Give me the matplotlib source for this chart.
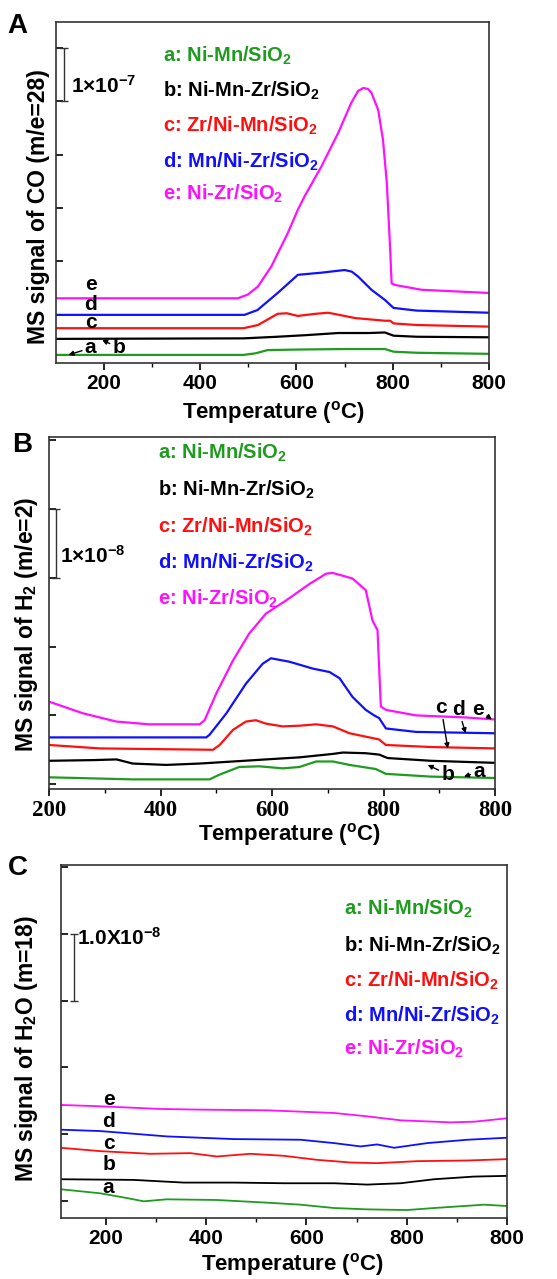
import matplotlib
matplotlib.use('Agg')
import matplotlib.pyplot as plt

plt.rcParams['font.family'] = ['Liberation Sans', 'DejaVu Sans']
plt.rcParams['font.weight'] = 'bold'
plt.rcParams['mathtext.fontset'] = 'custom'
plt.rcParams['mathtext.rm'] = 'Liberation Sans:bold'
plt.rcParams['mathtext.it'] = 'Liberation Sans:bold'
plt.rcParams['mathtext.bf'] = 'Liberation Sans:bold'

colors = ['#1f9b1f', 'black', '#ff1010', '#1010ff', '#ff10ff']
names = ['a: Ni-Mn/SiO$_2$', 'b: Ni-Mn-Zr/SiO$_2$', 'c: Zr/Ni-Mn/SiO$_2$',
         'd: Mn/Ni-Zr/SiO$_2$', 'e: Ni-Zr/SiO$_2$']
xticks = [200, 400, 600, 800, 1000]
xticklabels = ['200', '400', '600', '800', '800']

# ---- panel A : CO (m/e=28), units of 1e-7
A_T_a = [100, 490, 515, 540, 600, 700, 784, 802, 850, 1000]
A_a = [-0.75, -0.75, -0.72, -0.66, -0.65, -0.64, -0.64, -0.69, -0.71, -0.73]
A_T_b = [100, 490, 560, 620, 687, 750, 784, 802, 850, 1000]
A_b = [-0.45, -0.44, -0.41, -0.38, -0.34, -0.34, -0.33, -0.39, -0.41, -0.42]
A_T_c = [100, 490, 520, 561, 580, 603, 640, 666, 700, 722, 784, 795, 802, 850, 1000]
A_c = [-0.25, -0.25, -0.19, 0.02, 0.03, -0.02, 0.02, 0.04, -0.02, -0.06, -0.11, -0.11, -0.16, -0.19, -0.22]
A_T_d = [100, 492, 519, 561, 603, 652, 700, 715, 728, 756, 784, 802, 850, 1000]
A_d = [0.0, 0.0, 0.09, 0.41, 0.75, 0.79, 0.84, 0.81, 0.72, 0.47, 0.28, 0.13, 0.08, 0.04]
A_T_e = [100, 478, 499, 520, 548, 582, 603, 617, 652, 687, 714, 728, 739, 749, 756,
         770, 780, 788, 795, 798, 805, 860, 1000]
A_e = [0.31, 0.31, 0.38, 0.53, 0.91, 1.53, 1.97, 2.22, 2.78, 3.41, 3.97, 4.19, 4.25, 4.23, 4.16,
       3.84, 3.28, 2.47, 1.22, 0.59, 0.56, 0.47, 0.41]

# ---- panel B : H2 (m/e=2), units of 1e-8
B_T_a = [200, 350, 488, 506, 541, 577, 619, 649, 679, 709, 739, 786, 804, 885, 1000]
B_a = [0.10, 0.07, 0.07, 0.14, 0.25, 0.26, 0.23, 0.25, 0.33, 0.33, 0.28, 0.22, 0.15, 0.11, 0.09]
B_T_b = [200, 279, 321, 350, 410, 470, 530, 589, 649, 709, 727, 768, 792, 807, 885, 1000]
B_b = [0.34, 0.35, 0.36, 0.30, 0.28, 0.30, 0.33, 0.36, 0.39, 0.44, 0.46, 0.45, 0.43, 0.38, 0.34, 0.31]
B_T_c = [200, 291, 494, 506, 530, 553, 571, 589, 619, 649, 679, 709, 739, 792, 804, 885, 1000]
B_c = [0.57, 0.52, 0.50, 0.57, 0.79, 0.91, 0.93, 0.88, 0.84, 0.85, 0.87, 0.84, 0.74, 0.65, 0.57, 0.54, 0.52]
B_T_d = [200, 482, 488, 518, 553, 583, 598, 631, 673, 703, 721, 744, 768, 783, 792, 804, 858, 1000]
B_d = [0.68, 0.68, 0.72, 1.03, 1.46, 1.75, 1.83, 1.78, 1.68, 1.63, 1.54, 1.27, 1.08, 1.00, 0.96, 0.81, 0.76, 0.74]
B_T_e = [200, 261, 321, 380, 470, 479, 500, 530, 559, 589, 625, 667, 697, 709, 744, 768,
         780, 789, 795, 804, 858, 947, 1000]
B_e = [1.20, 1.03, 0.91, 0.87, 0.87, 0.93, 1.32, 1.80, 2.19, 2.48, 2.67, 2.91, 3.06, 3.07, 2.99, 2.82,
       2.38, 2.24, 1.13, 1.08, 1.00, 0.97, 0.94]

# ---- panel C : H2O (m=18), units of 1e-8
C_T_a = [110, 188, 241, 275, 321, 421, 521, 588, 655, 721, 801, 855, 955, 1000]
C_a = [0.18, 0.12, 0.05, 0.0, 0.03, 0.02, -0.02, -0.05, -0.10, -0.12, -0.13, -0.10, -0.05, -0.07]
C_T_b = [110, 255, 355, 455, 555, 655, 721, 788, 855, 935, 1000]
C_b = [0.33, 0.32, 0.28, 0.28, 0.27, 0.27, 0.25, 0.27, 0.33, 0.37, 0.38]
C_T_c = [110, 188, 288, 368, 421, 488, 555, 621, 688, 741, 821, 921, 1000]
C_c = [0.80, 0.75, 0.71, 0.72, 0.67, 0.71, 0.68, 0.62, 0.58, 0.57, 0.60, 0.61, 0.63]
C_T_d = [110, 188, 321, 455, 588, 655, 708, 741, 775, 841, 921, 1000]
C_d = [1.07, 1.05, 0.97, 0.93, 0.92, 0.87, 0.82, 0.85, 0.80, 0.87, 0.92, 0.95]
C_T_e = [110, 188, 308, 388, 521, 655, 721, 788, 888, 935, 1000]
C_e = [1.44, 1.42, 1.38, 1.37, 1.36, 1.32, 1.27, 1.21, 1.18, 1.19, 1.24]

fig = plt.figure(figsize=(5.57, 12.79), dpi=100)
axA = fig.add_axes([0.1005, 0.716, 0.777, 0.267])
axB = fig.add_axes([0.088, 0.383, 0.801, 0.275])
axC = fig.add_axes([0.1095, 0.0477, 0.8005, 0.276])


def setup(ax, xlim, ylim, serif=False):
    ax.set_xlim(xlim)
    ax.set_ylim(ylim)
    ax.set_xticks(xticks)
    ax.set_xticklabels(xticklabels)
    ax.set_xticks([300, 500, 700, 900], minor=True)
    ax.set_yticks(range(0, 6))
    ax.set_yticklabels([])
    ax.tick_params(axis='x', which='major', direction='out', length=5, width=1.2, labelsize=15, pad=3)
    ax.tick_params(axis='x', which='minor', direction='out', length=3, width=1.0)
    ax.tick_params(axis='y', direction='in', length=5, width=1.2)
    for s in ax.spines.values():
        s.set_linewidth(1.2)
        s.set_color('#333333')
    for lab in ax.get_xticklabels():
        lab.set_fontweight('bold')
        if serif:
            lab.set_family('Liberation Serif')
            lab.set_fontsize(16.5)


def legend_text(ax, x, ys):
    for name, c, y in zip(names, colors, ys):
        ax.text(x, y, name, color=c, fontsize=14.5, fontweight='bold',
                transform=ax.transAxes, va='baseline')


arrow = dict(arrowstyle='-|>', color='black', lw=1.0, mutation_scale=7, shrinkA=0, shrinkB=0)
lbl_kw = dict(fontsize=15, fontweight='bold', ha='center', va='center')

# Panel A
plt.sca(axA)
for T, v, c in zip([A_T_a, A_T_b, A_T_c, A_T_d, A_T_e], [A_a, A_b, A_c, A_d, A_e], colors):
    plt.plot(T, v, color=c, lw=1.6)
setup(axA, (100, 1000), (-0.906, 5.49))
legend_text(axA, 0.247, [0.884, 0.781, 0.678, 0.572, 0.479])
plt.errorbar([116], [4.5], yerr=[0.5], color='#333333', capsize=3, lw=1.0, capthick=1.0)
plt.text(131, 4.28, r'1$\times$10$^{-7}$', fontsize=15, fontweight='bold', va='center')
for lbl, y in zip(['e', 'd', 'c'], [0.56, 0.19, -0.14]):
    plt.text(172, y, lbl, **lbl_kw)
plt.annotate('a', xy=(126, -0.75), xytext=(172, -0.62), arrowprops=arrow, **lbl_kw)
plt.annotate('b', xy=(196, -0.47), xytext=(231, -0.62), arrowprops=arrow, **lbl_kw)
plt.xlabel('Temperature ($^{o}$C)', fontsize=16, fontweight='bold')
plt.ylabel('MS signal of CO (m/e=28)', fontsize=16.5, fontweight='bold')
axA.xaxis.set_label_coords(0.503, -0.105)
axA.yaxis.set_label_coords(-0.014, 0.46)
fig.text(0.014, 0.980, 'A', fontsize=20, fontweight='bold', va='center')

# Panel B
plt.sca(axB)
for T, v, c in zip([B_T_a, B_T_b, B_T_c, B_T_d, B_T_e], [B_a, B_b, B_c, B_d, B_e], colors):
    plt.plot(T, v, color=c, lw=1.6)
setup(axB, (200, 1000), (-0.072, 5.04), serif=True)
legend_text(axB, 0.245, [0.940, 0.835, 0.730, 0.628, 0.523])
plt.errorbar([212], [3.5], yerr=[0.5], color='#333333', capsize=3, lw=1.0, capthick=1.0)
plt.text(219, 3.32, r'1$\times$10$^{-8}$', fontsize=15, fontweight='bold', va='center')
plt.annotate('c', xy=(915, 0.52), xytext=(903, 1.12), arrowprops=arrow, **lbl_kw)
plt.annotate('d', xy=(947, 0.74), xytext=(934, 1.09), arrowprops=arrow, **lbl_kw)
plt.annotate('e', xy=(994, 0.94), xytext=(970, 1.09), arrowprops=arrow, **lbl_kw)
plt.annotate('b', xy=(879, 0.28), xytext=(915, 0.14), arrowprops=arrow, **lbl_kw)
plt.annotate('a', xy=(944, 0.11), xytext=(971, 0.18), arrowprops=arrow, **lbl_kw)
plt.xlabel('Temperature ($^{o}$C)', fontsize=16, fontweight='bold')
plt.ylabel('MS signal of H$_2$ (m/e=2)', fontsize=16.5, fontweight='bold')
axB.xaxis.set_label_coords(0.538, -0.091)
axB.yaxis.set_label_coords(-0.02, 0.47)
fig.text(0.022, 0.652, 'B', fontsize=20, fontweight='bold', va='center')

# Panel C
plt.sca(axC)
for T, v, c in zip([C_T_a, C_T_b, C_T_c, C_T_d, C_T_e], [C_a, C_b, C_c, C_d, C_e], colors):
    plt.plot(T, v, color=c, lw=1.3)
setup(axC, (110, 1000), (-0.249, 5.025))
legend_text(axC, 0.635, [0.858, 0.754, 0.655, 0.555, 0.462])
plt.errorbar([135], [3.5], yerr=[0.5], color='#333333', capsize=3, lw=1.0, capthick=1.0)
plt.text(141, 3.93, '1.0X10$^{-8}$', fontsize=15, fontweight='bold', va='center')
for lbl, y in zip(['e', 'd', 'c', 'b', 'a'], [1.52, 1.19, 0.87, 0.55, 0.20]):
    plt.text(205, y, lbl, **lbl_kw)
plt.xlabel('Temperature ($^{o}$C)', fontsize=16, fontweight='bold')
plt.ylabel('MS signal of H$_2$O (m=18)', fontsize=16.5, fontweight='bold')
axC.xaxis.set_label_coords(0.52, -0.094)
axC.yaxis.set_label_coords(-0.047, 0.48)
fig.text(0.015, 0.321, 'C', fontsize=20, fontweight='bold', va='center')

plt.savefig('out.png', dpi=100)
